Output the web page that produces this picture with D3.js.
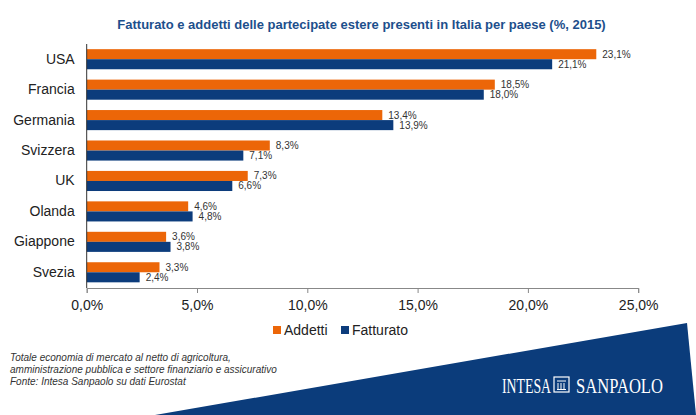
<!DOCTYPE html>
<html><head><meta charset="utf-8">
<script src="https://cdn.jsdelivr.net/npm/d3@7"></script>
<style>body{margin:0;background:#fff;} svg{display:block;font-family:"Liberation Sans",Arial,sans-serif;}</style>
</head><body>
<svg id="c" width="696" height="415"></svg>
<script>
const categories = ["USA","Francia","Germania","Svizzera","UK","Olanda","Giappone","Svezia"];
const addetti   = [23.1,18.5,13.4,8.3,7.3,4.6,3.6,3.3];
const fatturato = [21.1,18.0,13.9,7.1,6.6,4.8,3.8,2.4];
const seriesNames = ["Addetti","Fatturato"];
const xTicks = [0,5,10,15,20,25];
const titleText = "Fatturato e addetti delle partecipate estere presenti in Italia per paese (%, 2015)";
const notes = ["Totale economia di mercato al netto di agricoltura,",
  "amministrazione pubblica e settore finanziario e assicurativo",
  "Fonte:  Intesa Sanpaolo su dati Eurostat"];

const ORANGE = "#ec6608", BLUE = "#0c3c7c";
const fmt = v => v.toFixed(1).replace(".", ",") + "%";
const svg = d3.select("#c");

const x = d3.scaleLinear().domain([0,25]).range([86.7,638.2]);
const y = d3.scaleBand().domain(categories).range([44,287.5]).paddingInner(0.34).paddingOuter(0.17);
const sub = d3.scaleBand().domain(seriesNames).range([0,y.bandwidth()]);

// background shape
svg.append("path").attr("d","M155,415 L687,323 L696,415 Z").attr("fill","#0b3c7b");

// title
svg.append("text").attr("x",361.5).attr("y",29).attr("text-anchor","middle")
  .attr("font-size",13).attr("font-weight","bold").attr("fill","#1d4f8c").text(titleText);

const rows = categories.map((c,i)=>({c, vals:[{s:"Addetti",v:addetti[i],col:ORANGE},{s:"Fatturato",v:fatturato[i],col:BLUE}]}));
const g = svg.append("g");
const rg = g.selectAll("g.row").data(rows).join("g").attr("transform",d=>`translate(0,${y(d.c)})`);
rg.selectAll("rect").data(d=>d.vals).join("rect")
  .attr("x",x(0)).attr("y",d=>sub(d.s)).attr("height",sub.bandwidth())
  .attr("width",d=>x(d.v)-x(0)).attr("fill",d=>d.col);
rg.selectAll("text").data(d=>d.vals).join("text")
  .attr("x",d=>x(d.v)+6).attr("y",d=>sub(d.s)+sub.bandwidth()/2).attr("dy","0.35em")
  .attr("font-size",10).attr("fill","#333").text(d=>fmt(d.v));

// x axis
const xa = svg.append("g").attr("transform","translate(0,288)")
  .call(d3.axisBottom(x).tickValues(xTicks).tickSize(5).tickPadding(7).tickFormat(d=>d.toFixed(1).replace(".",",")+"%"));
xa.select(".domain").attr("stroke","#888");
xa.selectAll(".tick line").attr("stroke","#888");
xa.selectAll("text").attr("font-size",14).attr("fill","#222").attr("font-family","Liberation Sans, Arial, sans-serif");

// y axis
const ya = svg.append("g").attr("transform",`translate(${x(0)},0)`)
  .call(d3.axisLeft(y).tickSize(0).tickPadding(12));
ya.select(".domain").attr("stroke","#333").attr("d","M0,44V288");
ya.selectAll("text").attr("font-size",14).attr("fill","#222").attr("font-family","Liberation Sans, Arial, sans-serif");

// legend
const leg = svg.append("g");
const legX = [273, 341];
seriesNames.forEach((s,i)=>{
  leg.append("rect").attr("x",legX[i]).attr("y",326).attr("width",8).attr("height",8).attr("fill",i?BLUE:ORANGE);
  leg.append("text").attr("x",legX[i]+11).attr("y",335).attr("font-size",14).attr("fill","#222").text(s);
});

// notes
notes.forEach((t,i)=>svg.append("text").attr("x",10).attr("y",361+i*12).attr("font-size",10)
  .attr("font-style","italic").attr("fill","#333").text(t));

// logo
const logo = svg.append("g").attr("fill","#fff").attr("font-family","Liberation Serif, Times New Roman, serif");
logo.append("text").attr("x",502).attr("y",393).attr("font-size",21).attr("textLength",49).attr("lengthAdjust","spacingAndGlyphs").text("INTESA");
logo.append("rect").attr("x",554).attr("y",377).attr("width",15).attr("height",15).attr("fill","none").attr("stroke","#fff").attr("stroke-width",1.2);
logo.append("path").attr("d","M557,381 H566 M558,383 V389 M561,383 V389 M564,383 V389 M557,389.5 H566").attr("stroke","#fff").attr("stroke-width",1).attr("fill","none");
logo.append("text").attr("x",576).attr("y",393).attr("font-size",21).attr("textLength",87).attr("lengthAdjust","spacingAndGlyphs").text("SANPAOLO");
</script>
</body></html>
